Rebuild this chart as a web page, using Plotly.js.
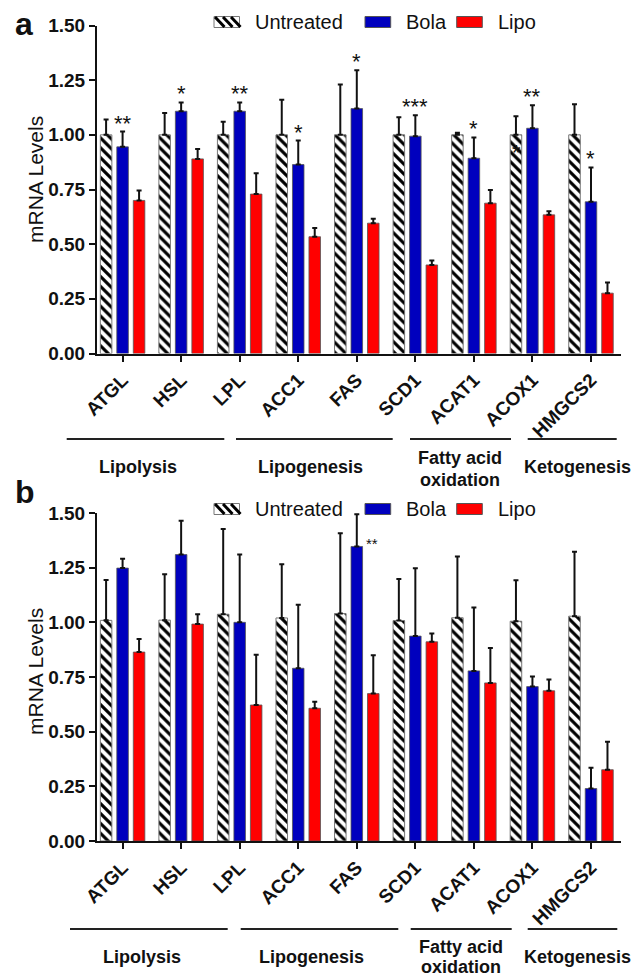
<!DOCTYPE html>
<html>
<head>
<meta charset="utf-8">
<script src="https://cdn.plot.ly/plotly-3.0.1.min.js"></script>
<style>html,body{margin:0;padding:0;background:#fff;}#chart{width:634px;height:979px;}</style>
</head>
<body>
<div id="chart"></div>
<script>
// ---------- data ----------
const categories = ['ATGL','HSL','LPL','ACC1','FAS','SCD1','ACAT1','ACOX1','HMGCS2'];
const seriesNames = ['Untreated','Bola','Lipo'];
const groupNames = ['Lipolysis','Lipogenesis','Fatty acid','oxidation','Ketogenesis'];

// panel a
const aUntreated    = [1.00, 1.00, 1.00, 1.00, 1.00, 1.00, 1.00, 1.00, 1.00];
const aUntreatedErr = [0.07, 0.10, 0.06, 0.16, 0.23, 0.08, 0.01, 0.085, 0.14];
const aBola         = [0.945, 1.108, 1.108, 0.864, 1.12, 0.994, 0.893, 1.03, 0.694];
const aBolaErr      = [0.07, 0.04, 0.04, 0.11, 0.175, 0.095, 0.095, 0.105, 0.157];
const aLipo         = [0.70, 0.89, 0.729, 0.534, 0.596, 0.405, 0.6875, 0.634, 0.276];
const aLipoErr      = [0.045, 0.045, 0.095, 0.04, 0.02, 0.02, 0.06, 0.017, 0.049];
const aSig          = ['**','*','**','*','*','***','*','**','*'];

// panel b
const bUntreated    = [1.009, 1.01, 1.037, 1.02, 1.04, 1.008, 1.021, 1.005, 1.028];
const bUntreatedErr = [0.185, 0.21, 0.39, 0.246, 0.367, 0.19, 0.28, 0.187, 0.295];
const bBola         = [1.248, 1.31, 1.00, 0.79, 1.347, 0.937, 0.778, 0.706, 0.24];
const bBolaErr      = [0.043, 0.155, 0.31, 0.29, 0.147, 0.31, 0.29, 0.046, 0.095];
const bLipo         = [0.864, 0.992, 0.622, 0.607, 0.674, 0.911, 0.723, 0.687, 0.326];
const bLipoErr      = [0.06, 0.045, 0.23, 0.03, 0.175, 0.038, 0.16, 0.052, 0.128];

// ---------- styling ----------
const W = 634, H = 979;
const FONT = 'Arial, "Liberation Sans", sans-serif';
const INK = '#111';
const BLUE = '#0000BE';
const RED = '#FF0000';
const px = x => x / W;
const py = y => 1 - y / H;

function errBar(arr) {
  return {type:'data', symmetric:false, array:arr, arrayminus:arr.map(()=>0),
          color:INK, thickness:2, width:2.5, visible:true};
}
function makeTraces(u, ue, b, be, l, le, xa, ya) {
  return [
    {type:'bar', name:seriesNames[0], x:categories, y:u, xaxis:xa, yaxis:ya, showlegend:false,
     marker:{color:'white', line:{color:'#777', width:1},
             pattern:{shape:'\\', fgcolor:'#000', bgcolor:'#fff', size:7, solidity:0.45, fillmode:'replace'}},
     error_y:errBar(ue)},
    {type:'bar', name:seriesNames[1], x:categories, y:b, xaxis:xa, yaxis:ya, showlegend:false,
     marker:{color:BLUE, line:{color:'#555', width:0.8}}, error_y:errBar(be)},
    {type:'bar', name:seriesNames[2], x:categories, y:l, xaxis:xa, yaxis:ya, showlegend:false,
     marker:{color:RED, line:{color:'#555', width:0.8}}, error_y:errBar(le)}
  ];
}

const traces = [
  ...makeTraces(aUntreated, aUntreatedErr, aBola, aBolaErr, aLipo, aLipoErr, 'x', 'y'),
  ...makeTraces(bUntreated, bUntreatedErr, bBola, bBolaErr, bLipo, bLipoErr, 'x2', 'y2')
];

const xDomain = [px(97), px(620.5)];
const xRange = [-0.437, 8.504];
function xAxis(anchor) {
  return {domain:xDomain, anchor:anchor, type:'category', range:xRange,
          showline:true, linecolor:INK, linewidth:2, ticks:'outside', ticklen:6, tickwidth:2, tickcolor:INK,
          showgrid:false, zeroline:false, tickangle:-45, fixedrange:true,
          tickfont:{family:FONT, size:19, color:INK, weight:'bold'}};
}
function yAxis(anchor, top, bottom) {
  return {domain:[py(bottom), py(top)], anchor:anchor, range:[0,1.5], dtick:0.25, tick0:0, tickformat:'.2f',
          showline:true, linecolor:INK, linewidth:2, ticks:'outside', ticklen:6, tickwidth:2, tickcolor:INK,
          showgrid:false, zeroline:false, fixedrange:true,
          tickfont:{family:FONT, size:19, color:INK, weight:'bold'}};
}

const annotations = [];
const shapes = [];

function paperText(text, x, y, size, opts) {
  annotations.push(Object.assign({xref:'paper', yref:'paper', x:px(x), y:py(y), text:text, showarrow:false,
    xanchor:'center', yanchor:'middle', font:{family:FONT, size:size, color:INK}}, opts||{}));
}

// panel letters and y titles
paperText('a', 24, 24, 32, {font:{family:FONT, size:32, color:INK, weight:'bold'}});
paperText('b', 25, 492, 32, {font:{family:FONT, size:32, color:INK, weight:'bold'}});
paperText('mRNA Levels', 35, 180, 21, {textangle:-90});
paperText('mRNA Levels', 35, 672, 21, {textangle:-90});

// significance marks (panel a, above Bola error bars)
categories.forEach((c, i) => {
  annotations.push({xref:'x', yref:'y', x:c, y:aBola[i] + aBolaErr[i], text:aSig[i], showarrow:false,
    yanchor:'bottom', xanchor:'center', yshift:-6, font:{family:FONT, size:22, color:INK}});
});
// stray asterisk printed on the ACOX1 untreated bar in panel a
annotations.push({xref:'x', yref:'y', x:'ACOX1', y:0.92, xshift:-16, text:'*', showarrow:false,
  yanchor:'middle', xanchor:'center', font:{family:FONT, size:22, color:INK}});
// panel b FAS marker
annotations.push({xref:'x2', yref:'y2', x:'FAS', y:1.36, xshift:15, text:'**', showarrow:false,
  yanchor:'middle', xanchor:'center', font:{family:FONT, size:15, color:INK}});

// custom legends
function legend(yTop, yBot) {
  const yc = (yTop + yBot) / 2;
  shapes.push({type:'rect', xref:'paper', yref:'paper', x0:px(214), x1:px(239.5), y0:py(yBot), y1:py(yTop),
    fillcolor:'#fff', line:{color:'#777', width:1}});
  [0, 8, 16].forEach(k => {
    shapes.push({type:'line', xref:'paper', yref:'paper', x0:px(215 + k), y0:py(yTop + 0.5),
      x1:px(215 + k + (yBot - yTop) - 1.5), y1:py(yBot - 0.5), line:{color:'#000', width:3}});
  });
  shapes.push({type:'rect', xref:'paper', yref:'paper', x0:px(365), x1:px(390.7), y0:py(yBot), y1:py(yTop),
    fillcolor:BLUE, line:{color:'#555', width:1}});
  shapes.push({type:'rect', xref:'paper', yref:'paper', x0:px(456.7), x1:px(482.3), y0:py(yBot), y1:py(yTop),
    fillcolor:RED, line:{color:'#555', width:1}});
  paperText(seriesNames[0], 253, yc, 20, {xanchor:'left'});
  paperText(seriesNames[1], 404, yc, 20, {xanchor:'left'});
  paperText(seriesNames[2], 495.5, yc, 20, {xanchor:'left'});
}
legend(16.5, 27.5);
legend(503.5, 514.5);

// group brackets and labels
function groups(lineY, segs, labelY, labelX) {
  segs.forEach(s => shapes.push({type:'line', xref:'paper', yref:'paper', x0:px(s[0]), x1:px(s[1]),
    y0:py(lineY), y1:py(lineY), line:{color:'#222', width:2}}));
  groupNames.forEach((g, i) => paperText(g, labelX[i], labelY[i], 18,
    {font:{family:FONT, size:18, color:INK, weight:'bold'}}));
}
groups(439, [[66.7,224.3],[236,392.7],[410,511],[527.7,616.7]],
       [467.5, 467.5, 457.5, 479.5, 467.5], [138, 310, 459.5, 459.5, 577]);
groups(929, [[70,227.7],[240.7,398.3],[410.7,511.7],[527.7,617.3]],
       [957, 957, 947, 966.5, 957], [141.7, 311, 461, 461, 577]);

const layout = {
  width:W, height:H, margin:{l:0, r:0, t:0, b:0},
  paper_bgcolor:'#fff', plot_bgcolor:'#fff',
  barmode:'group', bargap:0.155, bargroupgap:0.30,
  showlegend:false,
  font:{family:FONT, color:INK},
  xaxis:xAxis('y'), yaxis:yAxis('x', 25.5, 353.5),
  xaxis2:xAxis('y2'), yaxis2:yAxis('x2', 513, 841),
  annotations:annotations, shapes:shapes
};

Plotly.newPlot('chart', traces, layout, {displayModeBar:false, staticPlot:true});
</script>
</body>
</html>
